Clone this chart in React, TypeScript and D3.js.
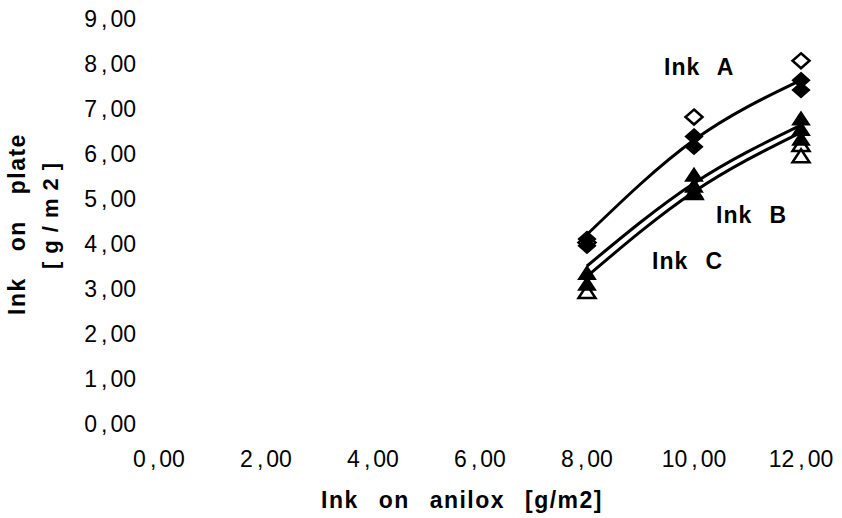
import React, { useEffect, useRef } from "react";
import * as d3 from "d3";

// axis ticks
const xTicks = [0, 2, 4, 6, 8, 10, 12];
const yTicks = [0, 1, 2, 3, 4, 5, 6, 7, 8, 9];

// anilox loadings measured
const anilox = [8, 10, 12];

// ink on plate, one row per anilox value
const inkAOpen = [[4.02], [6.81], [8.06]];
const inkAFilled = [[4.1, 3.95], [6.38, 6.15], [7.63, 7.41]];
const inkBFilled = [[3.34, 3.1], [5.52, 5.28, 5.15], [6.77, 6.54, 6.32]];
const inkCOpen = [[2.92], [5.12], [6.19, 5.94]];

// trend lines
const inkATrend = [4.2, 6.3, 7.63];
const inkBTrend = [3.5, 5.34, 6.63];
const inkCTrend = [3.27, 5.15, 6.47];

const FONT = "'Liberation Sans', Arial, Helvetica, sans-serif";

const flatten = (rows: number[][]) =>
  rows.flatMap((vals, i) => vals.map((v) => ({ x: anilox[i], y: v })));

const App = () => {
  const ref = useRef<SVGSVGElement>(null);

  useEffect(() => {
    document.body.style.margin = "0";
    const svg = d3.select(ref.current);
    svg.selectAll("*").remove();

    const x = d3.scaleLinear().domain([0, 12]).range([159, 801]);
    const y = d3.scaleLinear().domain([0, 9]).range([423.5, 18.5]);

    // tick labels like "8,00" with the loose comma spacing of the original
    const label = (sel: any, v: number) => {
      const [a, b] = v.toFixed(2).split(".");
      sel.append("tspan").text(a);
      sel.append("tspan").attr("dx", 4).text(",");
      sel.append("tspan").attr("dx", 3).text(b);
    };

    const yAxis = svg.append("g").attr("font-family", FONT).attr("font-size", 23).attr("fill", "#000");
    yTicks.forEach((t) => {
      const txt = yAxis
        .append("text")
        .attr("x", 136)
        .attr("y", y(t) + 8.5)
        .attr("text-anchor", "end");
      label(txt, t);
    });

    const xAxis = svg.append("g").attr("font-family", FONT).attr("font-size", 23).attr("fill", "#000");
    xTicks.forEach((t) => {
      const txt = xAxis
        .append("text")
        .attr("x", x(t))
        .attr("y", 467)
        .attr("text-anchor", "middle");
      label(txt, t);
    });

    // axis titles
    svg
      .append("text")
      .attr("x", 462)
      .attr("y", 508)
      .attr("text-anchor", "middle")
      .attr("font-family", FONT)
      .attr("font-size", 23)
      .attr("font-weight", "bold")
      .attr("letter-spacing", 1.5)
      .attr("word-spacing", 12)
      .text("Ink on anilox [g/m2]");

    svg
      .append("text")
      .attr("transform", "translate(25,224) rotate(-90)")
      .attr("text-anchor", "middle")
      .attr("font-family", FONT)
      .attr("font-size", 23)
      .attr("font-weight", "bold")
      .attr("letter-spacing", 1.5)
      .attr("word-spacing", 18)
      .text("Ink on plate");

    svg
      .append("text")
      .attr("transform", "translate(58,212) rotate(-90)")
      .attr("text-anchor", "middle")
      .attr("font-family", FONT)
      .attr("font-size", 22)
      .attr("font-weight", "bold")
      .attr("letter-spacing", 8)
      .text("[g/m2]");

    // trend lines
    const line = d3
      .line<number>()
      .x((d, i) => x(anilox[i]))
      .y((d) => y(d))
      .curve(d3.curveNatural);

    [inkATrend, inkBTrend, inkCTrend].forEach((tr) => {
      svg
        .append("path")
        .attr("d", line(tr))
        .attr("fill", "none")
        .attr("stroke", "#000")
        .attr("stroke-width", 3);
    });

    const diamond = "M0,-7.5L8.5,0L0,7.5L-8.5,0Z";
    const triangle = "M0,-7L8.5,6L-8.5,6Z";

    const marks = (data: { x: number; y: number }[], shape: string, filled: boolean) => {
      svg
        .append("g")
        .selectAll("path")
        .data(data)
        .enter()
        .append("path")
        .attr("d", shape)
        .attr("transform", (d) => `translate(${x(d.x)},${y(d.y)})`)
        .attr("fill", filled ? "#000" : "#fff")
        .attr("stroke", "#000")
        .attr("stroke-width", filled ? 1.5 : 2.5)
        .attr("stroke-linejoin", "miter");
    };

    marks(flatten(inkAOpen), diamond, false);
    marks(flatten(inkAFilled), diamond, true);
    marks(flatten(inkCOpen), triangle, false);
    marks(flatten(inkBFilled), triangle, true);

    // series labels
    const inkLabel = (txt: string, lx: number, ly: number) =>
      svg
        .append("text")
        .attr("x", lx)
        .attr("y", ly)
        .attr("font-family", FONT)
        .attr("font-size", 23)
        .attr("font-weight", "bold")
        .attr("letter-spacing", 1)
        .attr("word-spacing", 10)
        .text(txt);

    inkLabel("Ink A", 664, 75);
    inkLabel("Ink B", 716, 223);
    inkLabel("Ink C", 652, 269);
  });

  return <svg ref={ref} width={842} height={518} style={{ display: "block", background: "#fff" }}></svg>;
};

export default App;
